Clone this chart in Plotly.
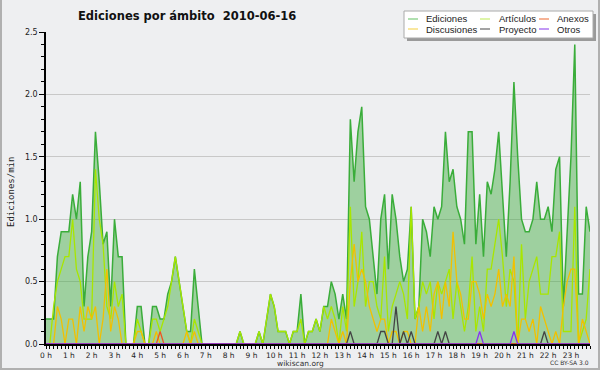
import plotly.graph_objects as go

# ---- data (10-minute intervals, edits/min) ----
hour_labels = [f"{h} h" for h in range(24)]

ediciones = [0.2,0.2,0.2,0.7,0.9,0.9,0.9,1.2,1.0,1.3,
 0.3,0.7,0.9,1.7,1.3,0.8,0.9,0.3,1.0,0.7,
 0.7,0,0,0,0.3,0.3,0,0,0.3,0.3,
 0.2,0.2,0.4,0.5,0.7,0.5,0.3,0.1,0.1,0.6,
 0.3,0,0,0,0,0,0,0,0,0,
 0,0.1,0,0,0,0,0.1,0,0.2,0.4,
 0.3,0.1,0.1,0.1,0,0.1,0.1,0.4,0,0.1,
 0.1,0.2,0.1,0.3,0.3,0.5,0.4,0.2,0.4,0.2,
 1.8,1.3,1.7,1.9,1.1,1.0,0.7,0.4,1.0,1.2,
 0.6,1.2,1.0,0.7,0.5,0.6,1.1,0.2,0.3,1.0,
 0.9,0.7,1.1,1.0,1.1,1.7,1.3,1.4,1.1,1.0,
 0.8,1.7,1.7,0.8,1.2,0.7,1.3,1.2,1.4,1.7,
 1.2,0.7,1.3,2.1,1.5,1.0,0.9,0.9,1.0,1.3,
 1.0,1.0,1.1,0.9,1.4,1.5,0.3,0.9,1.5,2.4,
 0.4,0.4,1.1,0.9]

articulos = [0,0,0.3,0.5,0.6,0.7,0.7,1.0,0.6,0.5,
 0.2,0.2,0.2,1.4,1.0,0.8,0.3,0.2,0.5,0.3,
 0.4,0,0,0,0.2,0.1,0,0,0.2,0.2,
 0.1,0.2,0.3,0.5,0.7,0.5,0.3,0.1,0,0.2,
 0.1,0,0,0,0,0,0,0,0,0,
 0,0.1,0,0,0,0,0.1,0,0.2,0.4,
 0.3,0.1,0.1,0.1,0,0.1,0.1,0.2,0,0.1,
 0.1,0.2,0.1,0.3,0.2,0.3,0.2,0,0.3,0.1,
 1.1,0.3,0.5,0.9,0.3,0.5,0.5,0.3,0.2,0.7,
 0.1,0.3,0.4,0.5,0.4,0.2,1.1,0.2,0.3,0.5,
 0.4,0.5,0.2,0.5,0.4,0.5,0.6,0.2,0.5,0.3,
 0.1,0.3,0.7,0.1,0.3,0.1,0.6,0.6,0.8,1.0,
 0.7,0.3,0.6,0.5,0,0.8,0.2,0.5,0.6,0.7,
 0.4,0.4,0.4,0.7,0.7,0.9,0.1,0.1,0.1,1.1,
 0,0.1,0.2,0.6]

discusiones = [0,0,0,0.3,0.2,0,0.2,0.2,0,0.3,
 0.1,0.3,0.2,0.3,0,0.2,0.6,0.1,0.3,0.2,
 0,0,0,0,0.1,0.1,0,0,0,0.1,
 0,0,0,0,0,0,0,0.1,0,0.1,
 0,0,0,0,0,0,0,0,0,0,
 0,0,0,0,0,0,0,0,0,0,
 0,0,0,0,0,0,0,0,0,0,
 0,0,0,0,0,0.2,0.1,0,0.1,0,
 0.5,0.8,0.5,0.6,0.5,0.3,0.2,0.1,0.2,0.2,
 0,0.1,0.1,0,0.1,0.1,0,0,0.3,0.1,
 0.3,0.1,0.4,0.5,0.2,0.5,0.3,0.9,0.5,0.4,
 0.2,0.2,0.5,0.5,0.4,0.2,0.4,0.3,0.4,0.6,
 0.3,0.4,0.3,0.7,0,0.2,0.2,0.1,0.2,0,
 0.3,0.2,0.1,0,0.1,0,0.3,0.5,0.6,0.6,
 0,0.2,0.1,0]

proyecto = [0]*144
for i, v in [(80,0.1),(88,0.1),(89,0.1),(92,0.3),(94,0.1),(96,0.1),(103,0.1),(105,0.1),(131,0.1)]:
    proyecto[i] = v
anexos = [0]*144
anexos[30] = 0.1
otros = [0]*144
otros[114] = 0.1
otros[123] = 0.1

x = list(range(144))

# ---- figure ----
L, T, R, B = 46, 32, 10, 26
W, H = 600, 370
PW, PH = W - L - R, H - T - B
BG = "#eeeff1"

def px(v):
    return (v - L) / PW

def py(v):
    return (H - B - v) / PH

FONT = "DejaVu Sans"
fig = go.Figure()
fig.add_trace(go.Scatter(x=x, y=ediciones, mode="lines", fill="tozeroy",
                         fillcolor="rgba(60,170,60,0.45)",
                         line=dict(color="#3aad3a", width=1.5), name="Ediciones"))
series = [
    ("Artículos", articulos, "#a8e600"),
    ("Discusiones", discusiones, "#f2c000"),
    ("Proyecto", proyecto, "#444444"),
    ("Anexos", anexos, "#ee5522"),
    ("Otros", otros, "#8833ee"),
]
for name, vals, col in series:
    fig.add_trace(go.Scatter(x=x, y=vals, mode="lines", name=name,
                             line=dict(color=col, width=1.3)))

shapes = []
annotations = []
# outer frame
frame = dict(color="#b0b0b0", width=2)
shapes.append(dict(type="line", xref="paper", yref="paper", x0=px(1), x1=px(1), y0=py(0), y1=py(370), line=frame))
shapes.append(dict(type="line", xref="paper", yref="paper", x0=px(0), x1=px(600), y0=py(369), y1=py(369), line=frame))
shapes.append(dict(type="line", xref="paper", yref="paper", x0=px(599), x1=px(599), y0=py(0), y1=py(370), line=frame))

# legend box with shadow
shapes.append(dict(type="rect", xref="paper", yref="paper", x0=px(407), x1=px(596), y0=py(14), y1=py(41),
                   fillcolor="#9a9a9a", line=dict(width=0)))
shapes.append(dict(type="rect", xref="paper", yref="paper", x0=px(404), x1=px(593), y0=py(11), y1=py(38),
                   fillcolor="#ffffff", line=dict(color="#aaaaaa", width=1)))
legend_items = [
    ("Ediciones", "#7ccc7c", 408, 19),
    ("Discusiones", "#f6d860", 408, 29),
    ("Artículos", "#c8ee70", 480, 19),
    ("Proyecto", "#666666", 480, 29),
    ("Anexos", "#f08050", 539, 19),
    ("Otros", "#9955ee", 539, 29),
]
for name, col, lx, ly in legend_items:
    shapes.append(dict(type="line", xref="paper", yref="paper", x0=px(lx), x1=px(lx + 10),
                       y0=py(ly), y1=py(ly), line=dict(color=col, width=1.2)))
    tx = lx + 16 if lx != 480 else lx + 17
    annotations.append(dict(text=name, xref="paper", yref="paper", x=px(tx), y=py(ly),
                            xanchor="left", yanchor="middle", showarrow=False,
                            font=dict(family="Liberation Sans", size=9.5, color="#222222")))

annotations.append(dict(text="<b>Ediciones por ámbito\u00a0\u00a02010-06-16</b>", xref="paper", yref="paper",
                        x=px(187), y=py(16), xanchor="center", yanchor="middle", showarrow=False,
                        font=dict(family=FONT, size=11.5, color="#111111")))
annotations.append(dict(text="Ediciones/min", xref="paper", yref="paper", x=px(11), y=py(192),
                        xanchor="center", yanchor="middle", showarrow=False, textangle=-90,
                        font=dict(family="DejaVu Sans Mono", size=9, color="#222222")))
annotations.append(dict(text="wikiscan.org", xref="paper", yref="paper", x=px(300), y=py(363.5),
                        xanchor="center", yanchor="middle", showarrow=False,
                        font=dict(family=FONT, size=7.5, color="#333333")))
annotations.append(dict(text="CC BY-SA 3.0", xref="paper", yref="paper", x=px(569), y=py(362),
                        xanchor="center", yanchor="middle", showarrow=False,
                        font=dict(family=FONT, size=6, color="#333333")))

fig.update_layout(
    width=W, height=H, margin=dict(l=L, r=R, t=T, b=B),
    paper_bgcolor=BG, plot_bgcolor=BG,
    showlegend=False, shapes=shapes, annotations=annotations,
    xaxis=dict(range=[0, 143], tickmode="array", tickvals=[6 * h for h in range(24)],
               ticktext=hour_labels, ticks="outside", ticklen=3, tickcolor="#000",
               showline=True, linecolor="#000", linewidth=1.5, showgrid=False, zeroline=False,
               tickfont=dict(family=FONT, size=7.5, color="#222"),
               minor=dict(tickvals=x, ticks="outside", ticklen=3, tickcolor="#000", showgrid=False)),
    yaxis=dict(range=[0, 2.5], dtick=0.5, tick0=0, tickformat=".1f", ticks="outside", ticklen=5,
               tickcolor="#000", showline=True, linecolor="#000", linewidth=1.5,
               showgrid=True, gridcolor="#c8c8c8", gridwidth=1, zeroline=False,
               tickfont=dict(family=FONT, size=8, color="#222"),
               minor=dict(dtick=0.1, tick0=0, ticks="outside", ticklen=3, tickcolor="#000", showgrid=False)),
)

fig.write_html("out.html", config={"displayModeBar": False},
               post_script="document.body.style.margin='0';document.body.style.background='%s';" % BG)
